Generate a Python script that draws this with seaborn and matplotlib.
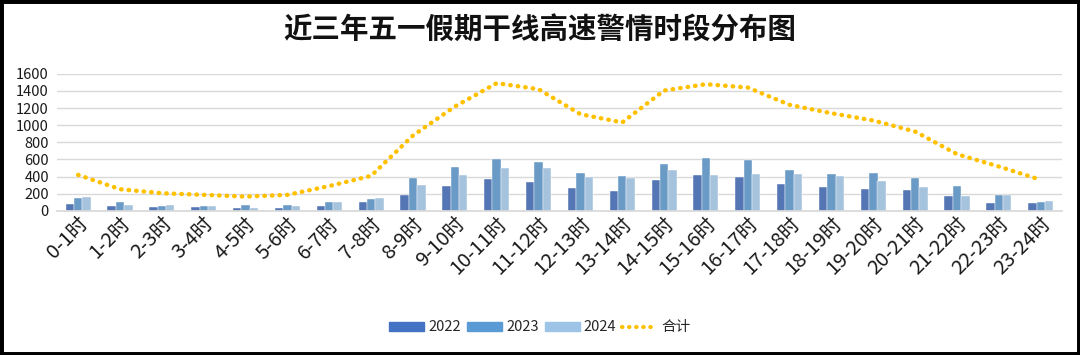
import pandas as pd
import matplotlib.pyplot as plt
import seaborn as sns
from matplotlib.patches import Rectangle
from matplotlib.lines import Line2D

# hourly slots
slots = [f"{h}-{h + 1}时" for h in range(24)]
years = ["2022", "2023", "2024"]

v2022 = [82, 62, 51, 51, 39, 39, 62, 105, 187, 288, 370, 335, 265, 230, 358, 417,
         393, 311, 276, 253, 241, 175, 93, 93]
v2023 = [152, 105, 58, 62, 70, 70, 105, 140, 381, 510, 600, 576, 448, 405, 553, 623,
         592, 475, 428, 440, 381, 288, 187, 105]
v2024 = [167, 70, 70, 62, 39, 62, 105, 152, 300, 417, 498, 498, 397, 381, 475, 417,
         436, 428, 405, 346, 280, 175, 187, 117]
total = [420, 253, 206, 187, 167, 187, 290, 409, 880, 1218, 1491, 1421, 1129, 1032,
         1405, 1479, 1440, 1238, 1140, 1055, 926, 662, 518, 362]

colors = ["#4472C4", "#5B9BD5", "#9DC3E6"]
line_color = "#FFC000"

df = pd.DataFrame({
    "slot": slots * 3,
    "year": [y for y in years for _ in slots],
    "count": v2022 + v2023 + v2024,
})

sns.set_theme(style="white")
plt.rcParams["font.family"] = ["Noto Sans CJK SC", "DejaVu Sans"]

fig = plt.figure(figsize=(10.8, 3.55), dpi=100)
ax = fig.add_axes([0.053, 0.406, 0.930, 0.386])

sns.barplot(data=df, x="slot", y="count", hue="year", order=slots, hue_order=years,
            palette=colors, width=0.6, gap=0.0, legend=False, ax=ax,
            edgecolor="white", linewidth=0.3)
ax.plot(range(len(slots)), total, color=line_color, linestyle=(0, (0.1, 1.6)),
        linewidth=3.2, dash_capstyle="round", zorder=5)

ax.set_ylim(0, 1600)
ax.set_xlim(-0.5, len(slots) - 0.5)
ax.set_yticks(range(0, 1601, 200))
ax.yaxis.grid(True, color="#D9D9D9", linewidth=1)
ax.set_axisbelow(True)
for s in ["top", "right", "left"]:
    ax.spines[s].set_visible(False)
ax.spines["bottom"].set_color("#D9D9D9")
ax.set_xlabel("")
ax.set_ylabel("")
ax.tick_params(axis="y", labelsize=10.5, pad=6, length=0, colors="#1a1a1a")
ax.tick_params(axis="x", labelsize=14.5, length=0, pad=2, colors="#1a1a1a")
plt.setp(ax.get_xticklabels(), rotation=45, ha="right", rotation_mode="anchor")

fig.text(0.5, 0.915, "近三年五一假期干线高速警情时段分布图", ha="center", va="center",
         fontsize=20.5, fontweight="bold", color="#111111")

handles = [Rectangle((0, 0), 1, 1, color=c) for c in colors]
handles.append(Line2D([0], [0], color=line_color, linestyle=(0, (0.1, 1.6)),
                      linewidth=3, dash_capstyle="round"))
fig.legend(handles, years + ["合计"], loc="center", bbox_to_anchor=(0.5, 0.078),
           ncol=4, frameon=False, fontsize=10.5, handlelength=2.4,
           handleheight=0.55, columnspacing=0.4, handletextpad=0.3)

fig.patches.append(Rectangle((0, 0), 1, 1, transform=fig.transFigure, fill=False,
                             edgecolor="black", linewidth=5))

fig.savefig("out.png", dpi=100)
